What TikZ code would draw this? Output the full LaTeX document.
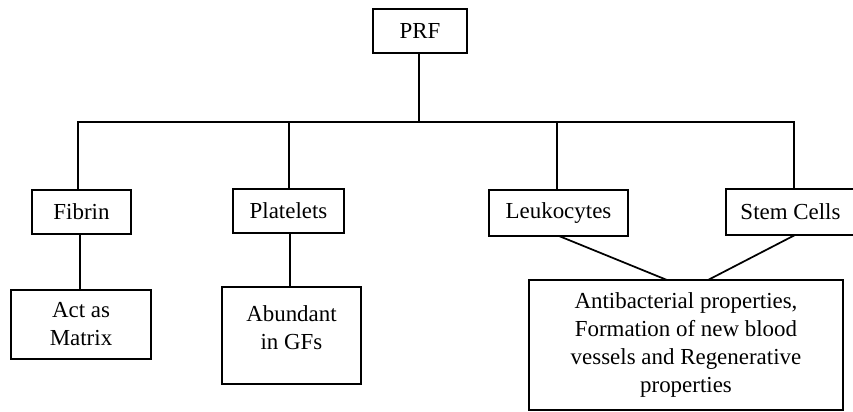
\documentclass[tikz,border=0pt]{standalone}
\usepackage{fontspec}
\setmainfont{Liberation Serif}
\begin{document}
\begin{tikzpicture}[x=0.75pt,y=-0.75pt,
  line width=1.3pt,
  box/.style={draw, rectangle, inner sep=0pt, outer sep=0pt, align=center,
    font=\fontsize{17.2}{21}\selectfont},
  lbl/.style={inner sep=0pt, align=center, font=\fontsize{17.2}{21}\selectfont},
  conn/.style={line width=1.3pt}]
\useasboundingbox (0,0) rectangle (853,411);
\clip (0,0) rectangle (853,411);
% top
\node[box, minimum width=70.5pt, minimum height=33pt] (prf) at (420,31) {PRF};
% second level
\node[box, minimum width=74.25pt, minimum height=33pt] (fib) at (81.5,212) {Fibrin};
\node[box, minimum width=83.25pt, minimum height=33pt] (pla) at (288.5,211) {Platelets};
\node[box, minimum width=104.25pt, minimum height=34.5pt] (leu) at (558.5,213) {Leukocytes};
\node[box, minimum width=103.5pt, minimum height=34.5pt] (stem) at (795,212) {};
\node[lbl] (stemtext) at (790.5,212) {Stem Cells};
% third level
\node[box, minimum width=105pt, minimum height=51.75pt] (act) at (81,324.5) {Act as\\Matrix};
\node[box, minimum width=104.25pt, minimum height=72.75pt] (abu) at (291.5,335.5) {};
\node[lbl] (abutext) at (291.5,328) {Abundant\\in GFs};
\node[box, minimum width=235.5pt, minimum height=97.5pt] (anti) at (686,345)
  {Antibacterial properties,\\Formation of new blood\\vessels and Regenerative\\properties};
% bus
\coordinate (bl) at (77,122);
\coordinate (br) at (795,122);
\coordinate (bm) at (419,122);
\coordinate (b1) at (78,122);
\coordinate (b2) at (289,122);
\coordinate (b3) at (557,122);
\coordinate (b4) at (794,122);
\draw[conn] (bl) -- (br);
\draw[conn] (prf.south -| bm) -- (bm);
\draw[conn] (b1) -- (b1 |- fib.north);
\draw[conn] (b2) -- (b2 |- pla.north);
\draw[conn] (b3) -- (b3 |- leu.north);
\draw[conn] (b4) -- (b4 |- stem.north);
% lower connectors
\coordinate (f1) at (80,0);
\draw[conn] (f1 |- fib.south) -- (f1 |- act.north);
\coordinate (p1) at (290,0);
\draw[conn] (p1 |- pla.south) -- (p1 |- abu.north);
\coordinate (l1) at (559,0);
\coordinate (a1) at (667,0);
\draw[conn] (l1 |- leu.south) -- (a1 |- anti.north);
\coordinate (s1) at (795,0);
\coordinate (a2) at (708,0);
\draw[conn] (s1 |- stem.south) -- (a2 |- anti.north);
\end{tikzpicture}
\end{document}
